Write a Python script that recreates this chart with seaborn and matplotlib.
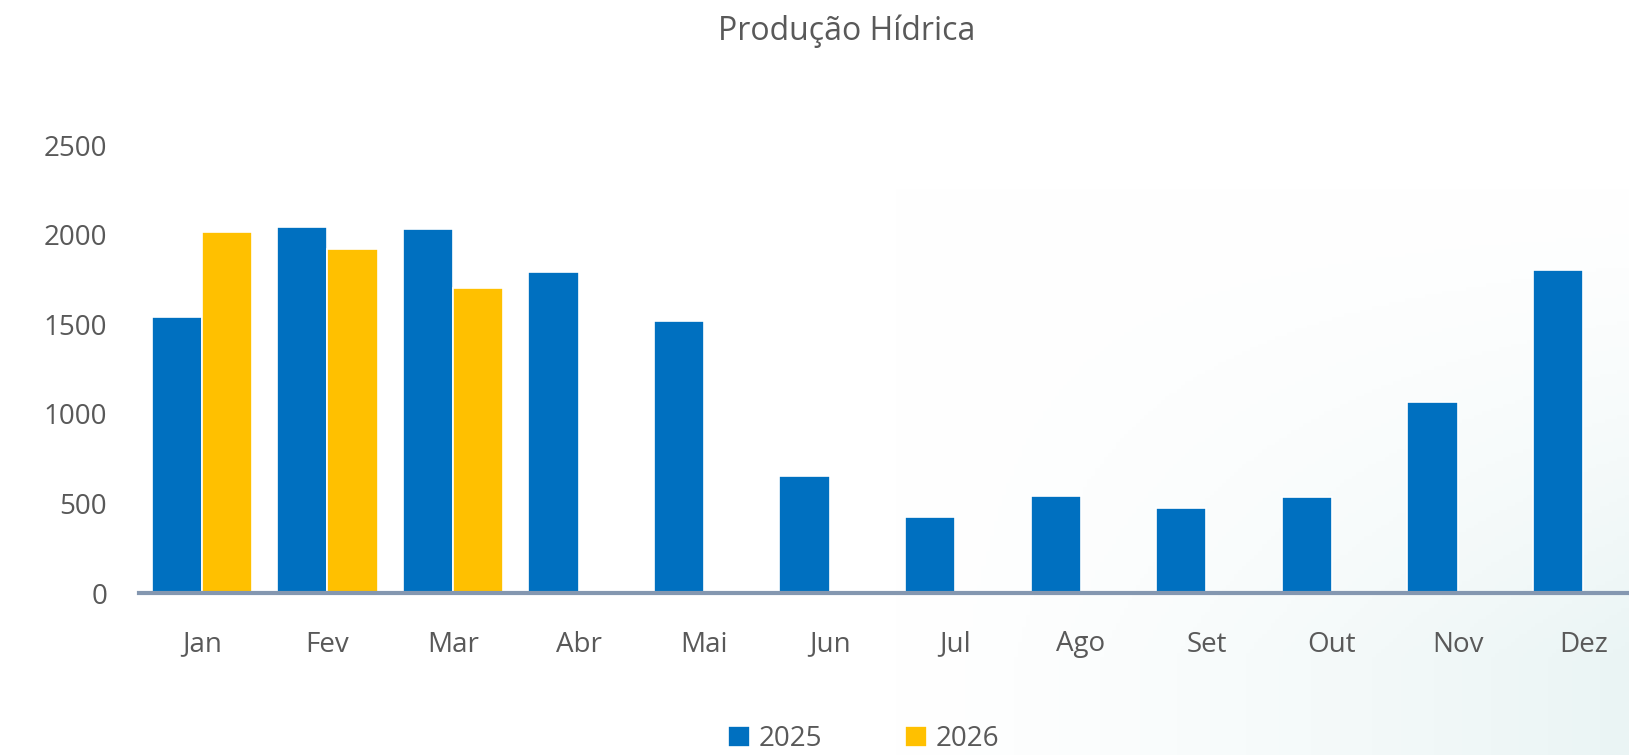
import numpy as np
import pandas as pd
import matplotlib
matplotlib.use("Agg")
import matplotlib.pyplot as plt
import seaborn as sns

# values
months = ["Jan", "Fev", "Mar", "Abr", "Mai", "Jun", "Jul", "Ago", "Set", "Out", "Nov", "Dez"]
prod_2025 = [1542, 2044, 2030, 1790, 1518, 653, 422, 543, 474, 538, 1068, 1802]
prod_2026 = [2016, 1918, 1702, np.nan, np.nan, np.nan, np.nan, np.nan, np.nan, np.nan, np.nan, np.nan]

df = pd.DataFrame({
    "mes": months * 2,
    "valor": prod_2025 + prod_2026,
    "ano": ["2025"] * 12 + ["2026"] * 12,
})

sns.set_theme(style="white")
plt.rcParams["font.family"] = ["Open Sans", "DejaVu Sans"]
txt = "#595959"

fig = plt.figure(figsize=(16.29, 7.55), dpi=100)

# soft background tint (bottom right)
bg = fig.add_axes([0, 0, 1, 1], zorder=-10)
h, w = 200, 400
yy, xx = np.mgrid[0:1:h * 1j, 0:1:w * 1j]
t = np.clip((xx - 0.55) * 1.6, 0, 1) * np.clip((yy - 0.25) * 1.6, 0, 1)
t = t ** 1.3 * 0.9
base = np.array([1.0, 1.0, 1.0])
tint = np.array([0.86, 0.93, 0.93])
img = base[None, None, :] * (1 - t[..., None]) + tint[None, None, :] * t[..., None]
bg.imshow(img, aspect="auto", extent=[0, 1, 0, 1], origin="upper")
bg.axis("off")

ax = fig.add_axes([139 / 1629, 162 / 755, 1507 / 1629, 448 / 755])
ax.patch.set_alpha(0)

sns.barplot(data=df, x="mes", y="valor", hue="ano", order=months,
            palette={"2025": "#0070C0", "2026": "#FFC000"}, saturation=1,
            width=0.8, edgecolor="white", linewidth=1.2, ax=ax)

ax.set_xlim(-0.5, 11.5)
ax.set_ylim(0, 2500)
ax.set_yticks([0, 500, 1000, 1500, 2000, 2500])
ax.set_xlabel("")
ax.set_ylabel("")
for s in ["top", "right", "left"]:
    ax.spines[s].set_visible(False)
ax.spines["bottom"].set_color("#8497B0")
ax.spines["bottom"].set_linewidth(3)
ax.tick_params(axis="x", length=0, pad=27, labelsize=20, labelcolor=txt)
ax.tick_params(axis="y", length=0, pad=23, labelsize=20, labelcolor=txt)

ax.get_legend().remove()
handles, labels = ax.get_legend_handles_labels()
fig.legend(handles, labels, loc="center", bbox_to_anchor=(0.53, 0.021), ncol=2,
           frameon=False, fontsize=20, labelcolor=txt, handlelength=0.8,
           handleheight=0.8, handletextpad=0.3, columnspacing=3.0,
           borderpad=0.1)

fig.text(0.52, 1 - 31 / 755, "Produção Hídrica", ha="center", va="center",
         fontsize=23, color=txt)

fig.savefig("out.png", dpi=100)
